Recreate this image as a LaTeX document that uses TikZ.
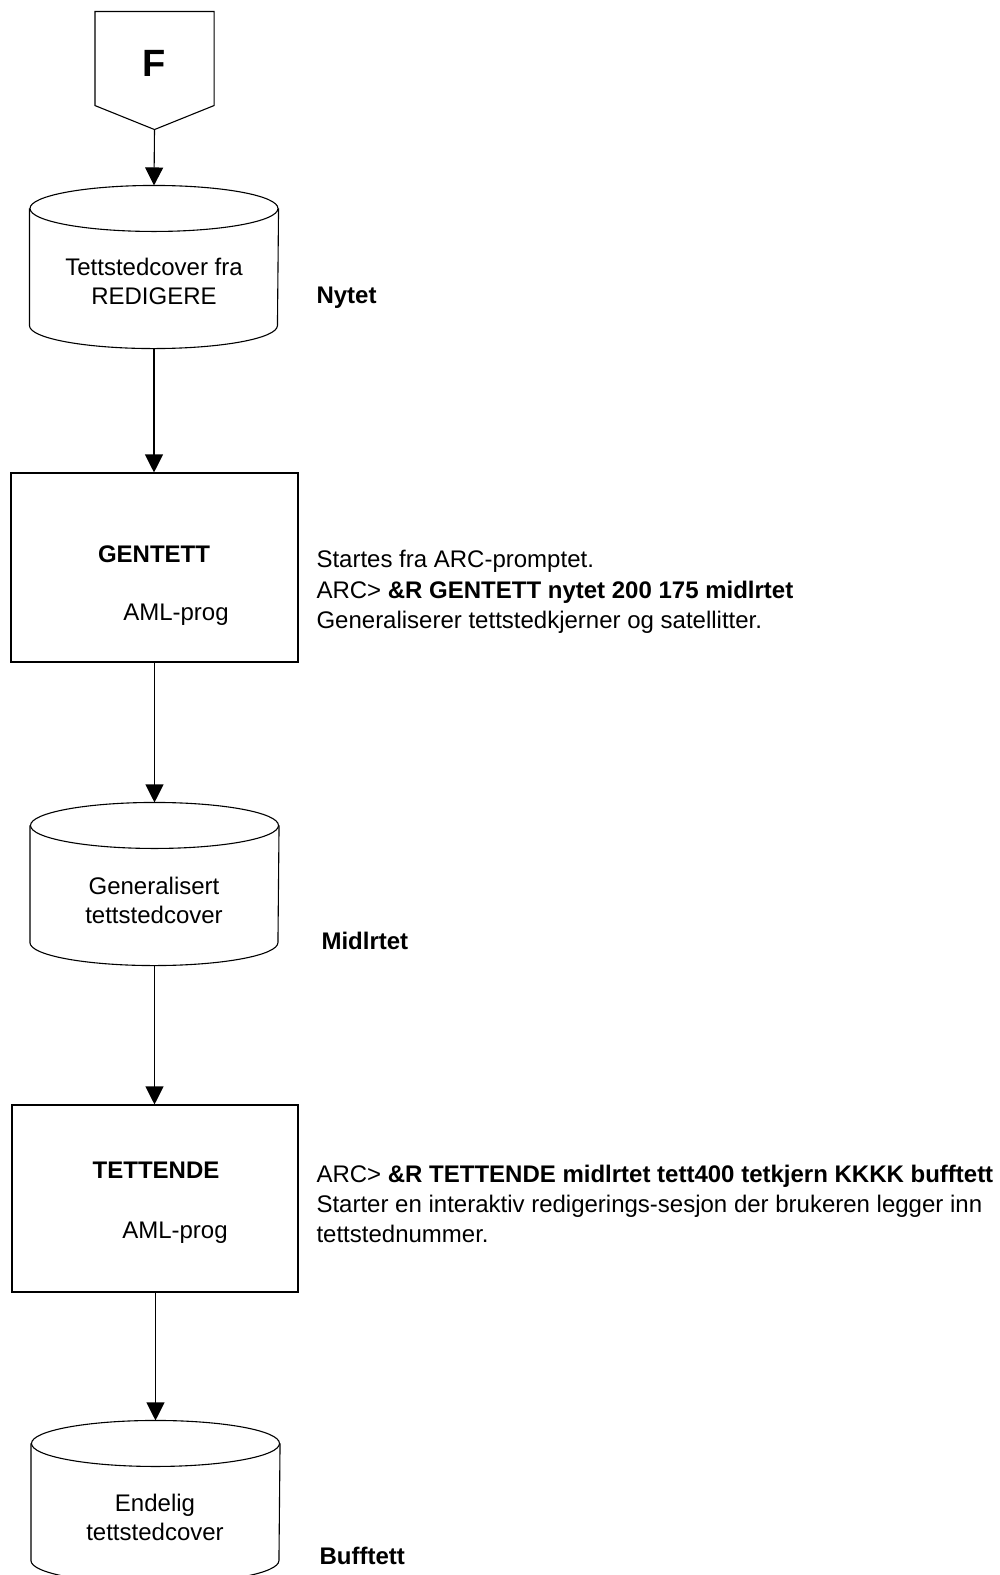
\documentclass[tikz,border=0pt]{standalone}
\usepackage{fontspec}
\setmainfont{Liberation Sans}
\usetikzlibrary{arrows.meta}

% Database drum drawn around an invisible placeholder node:
% full ellipse on top, lower half-ellipse at the bottom.
\newcommand\drumoutline[1]{%
  \draw ([yshift=-11.5pt]#1.north west)
        -- ([yshift=11.5pt]#1.south west)
        arc[start angle=180, end angle=360, x radius=62pt, y radius=11.5pt]
        -- ([yshift=-11.5pt]#1.north east);
  \draw ([yshift=-11.5pt]#1.north) ellipse[x radius=62pt, y radius=11.5pt];
}

\begin{document}
\begin{tikzpicture}[x=0.5pt, y=-0.5pt, line width=0.55pt,
  flow/.style={-{Triangle[length=9pt,width=9pt]}},
  drum/.style={minimum width=124pt, minimum height=81pt, inner sep=0pt},
  procbox/.style={draw, inner sep=0pt},
  plain/.style={inner sep=0pt, font=\fontsize{12}{15}\selectfont},
  lefttxt/.style={plain, anchor=base west},
  midtxt/.style={plain, anchor=base},
  strong/.style={plain, anchor=base west, font=\fontsize{12}{15}\selectfont\bfseries}]

\useasboundingbox (0,0) rectangle (1000,1575);
\clip (0,0) rectangle (1000,1575);

% off-page connector F
\node[minimum width=59pt, minimum height=58.5pt, inner sep=0pt] (f) at (154.5,70.5) {};
\draw (f.north west) -- ([yshift=12pt]f.south west) -- (f.south)
      -- ([yshift=12pt]f.south east) -- (f.north east) -- cycle;
\node[inner sep=0pt, anchor=base, font=\fontsize{19}{19}\selectfont\bfseries] (flabel) at (154,76) {F};

% input cover
\node[drum] (c1) at (154,267) {};
\drumoutline{c1}
\node[midtxt] (c1a) at (154,275) {Tettstedcover fra};
\node[midtxt] (c1b) at (154,304) {REDIGERE};
\node[strong] (nytet) at (316,303) {Nytet};

% GENTETT
\node[procbox, minimum width=143.5pt, minimum height=94.5pt] (b1) at (154.5,567.5) {};
\node[plain, anchor=base, font=\fontsize{12}{15}\selectfont\bfseries] (b1a) at (154,562) {GENTETT};
\node[midtxt] (b1b) at (176,620) {AML-prog};
\node[lefttxt] (g1) at (316,567) {Startes fra ARC-promptet.};
\node[lefttxt] (g2) at (316,598) {ARC> \textbf{\&R GENTETT nytet 200 175 midlrtet}};
\node[lefttxt] (g3) at (316,628) {Generaliserer tettstedkjerner og satellitter.};

% intermediate cover
\node[drum] (c2) at (154.5,884) {};
\drumoutline{c2}
\node[midtxt] (c2a) at (154,894) {Generalisert};
\node[midtxt] (c2b) at (154,923) {tettstedcover};
\node[strong] (midl) at (321,949) {Midlrtet};

% TETTENDE
\node[procbox, minimum width=143pt, minimum height=93.5pt] (b2) at (155,1198.5) {};
\node[plain, anchor=base, font=\fontsize{12}{15}\selectfont\bfseries] (b2a) at (156,1178) {TETTENDE};
\node[midtxt] (b2b) at (175,1238) {AML-prog};
\node[lefttxt] (t1) at (316,1182) {ARC> \textbf{\&R TETTENDE midlrtet tett400 tetkjern KKKK bufftett}};
\node[lefttxt] (t2) at (316,1212) {Starter en interaktiv redigerings-sesjon der brukeren legger inn};
\node[lefttxt] (t3) at (316,1242) {tettstednummer.};

% final cover
\node[drum] (c3) at (155.5,1502) {};
\drumoutline{c3}
\node[midtxt] (c3a) at (155,1511) {Endelig};
\node[midtxt] (c3b) at (155,1540) {tettstedcover};
\node[strong] (buff) at (319,1564) {Bufftett};

% flow
\draw[flow] (f.south) -- (c1.north);
\draw[flow] (c1.south) -- (b1.north -| c1.south);
\draw[flow] (b1.south -| c2.north) -- (c2.north);
\draw[flow] (c2.south) -- (b2.north -| c2.south);
\draw[flow] (b2.south -| c3.north) -- (c3.north);
\end{tikzpicture}
\end{document}
